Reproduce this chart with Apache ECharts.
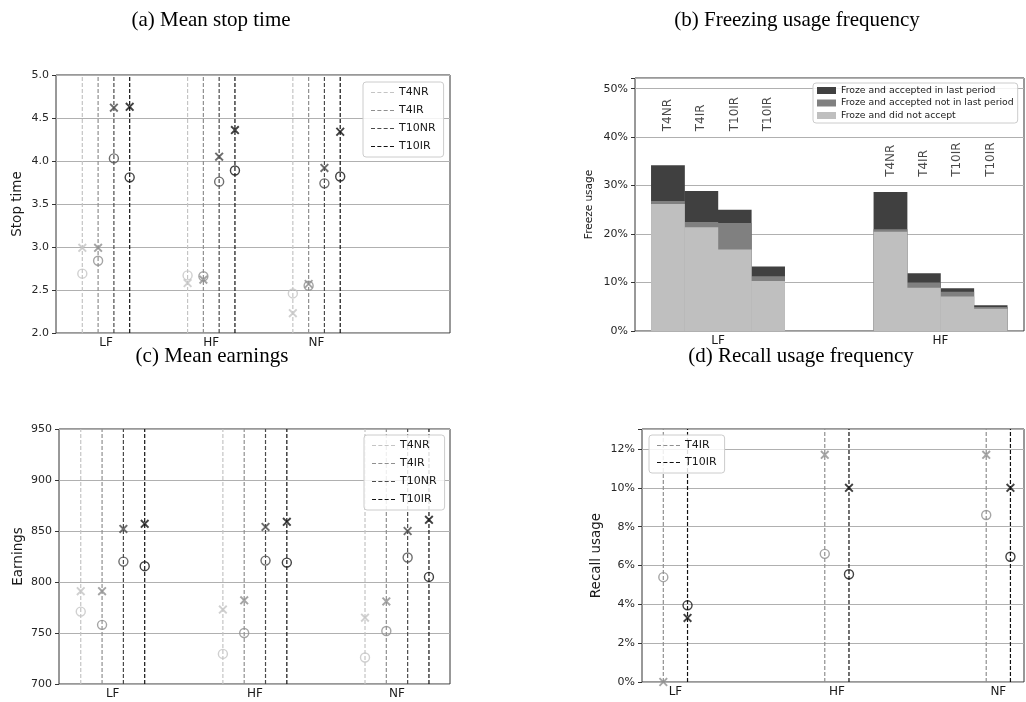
<!DOCTYPE html>
<html>
<head>
<meta charset="utf-8">
<script src="https://cdn.jsdelivr.net/npm/echarts/dist/echarts.min.js"></script>
<style>html,body{margin:0;padding:0;background:#fff}#c{width:1026px;height:702px}</style>
</head>
<body>
<div id="c"></div>
<script>
// ---- data ----
const cats = ['LF', 'HF', 'NF'];
const treatments = ['T4NR', 'T4IR', 'T10NR', 'T10IR'];
// per treatment, values over cats (LF, HF, NF)
const stopCross  = [[2.99, 2.58, 2.23], [2.99, 2.62, 2.57], [4.62, 4.05, 3.92], [4.63, 4.36, 4.34]];
const stopCircle = [[2.69, 2.67, 2.46], [2.84, 2.66, 2.55], [4.03, 3.76, 3.74], [3.81, 3.89, 3.82]];
const earnCross  = [[791, 773, 765], [791, 782, 781], [852, 854, 850], [857, 859, 861]];
const earnCircle = [[771, 729.5, 726], [758, 750, 752], [820, 821, 824], [815.5, 819, 805]];
const recallTreatments = ['T4IR', 'T10IR'];
const recallCross  = [[0, 11.7, 11.7], [3.3, 10.0, 10.0]];
const recallCircle = [[5.4, 6.6, 8.6], [3.95, 5.55, 6.45]];
// freezing usage (%) : LF x4 bars then HF x4 bars
const freezeGroups = ['LF', 'HF'];
const freezeBarLabels = ['T4NR', 'T4IR', 'T10IR', 'T10IR'];
const freezeNoAccept   = [26.2, 21.4, 16.8, 10.3, 20.5, 8.9, 7.1, 4.6];
const freezeNotLast    = [0.6, 1.1, 5.5, 1.0, 0.5, 1.1, 1.0, 0.35];
const freezeLastPeriod = [7.4, 6.4, 2.7, 2.0, 7.7, 1.9, 0.7, 0.35];
const freezeLabelHeight = [41.2, 31.8];
const freezeNames = ['Froze and accepted in last period', 'Froze and accepted not in last period', 'Froze and did not accept'];
const stopRange = [2.0, 5.0];
const earnRange = [700, 950];
const recallRange = [0, 13.03];

// ---- styling ----
const tColors = {T4NR: '#c4c4c4', T4IR: '#8f8f8f', T10NR: '#4a4a4a', T10IR: '#111111'};
const offsets4 = [-0.225, -0.075, 0.075, 0.225];
const offsets2 = [-0.075, 0.075];
const CROSS = 'path://M0,1.5L1.5,0L5,3.5L8.5,0L10,1.5L6.5,5L10,8.5L8.5,10L5,6.5L1.5,10L0,8.5L3.5,5Z';
const DASH_ICON = 'path://M0,0h4v1h-4zM6.3,0h4v1h-4zM12.6,0h4v1h-4zM18.9,0h4v1h-4z';
const SANS = 'DejaVu Sans';
const SERIF = 'Liberation Serif';

function vlineData(n, off, ymin, ymax) {
  const d = [];
  for (let i = 0; i < n; i++) { d.push([i + off, ymin], [i + off, ymax], [i + off, '-']); }
  return d;
}
function pointData(vals, off) { return vals.map((v, i) => [i + off, v]); }

const series = [];
function addDotPanel(gi, names, offs, cross, circle, range) {
  names.forEach((t, k) => {
    const c = tColors[t];
    series.push({
      name: t, type: 'line', xAxisIndex: gi, yAxisIndex: gi, symbol: 'none', silent: true,
      connectNulls: false, z: 2,
      data: vlineData(cats.length, offs[k], range[0], range[1]),
      lineStyle: {color: c, width: 1.2, type: [4, 2]}, itemStyle: {color: c}
    });
    series.push({
      name: gi + '-' + t + '-o', type: 'scatter', xAxisIndex: gi, yAxisIndex: gi, z: 4,
      symbol: 'circle', symbolSize: 9,
      itemStyle: {color: 'rgba(0,0,0,0)', borderColor: c, borderWidth: 1.4},
      data: pointData(circle[k], offs[k])
    });
    series.push({
      name: gi + '-' + t + '-x', type: 'scatter', xAxisIndex: gi, yAxisIndex: gi, z: 5,
      symbol: CROSS, symbolSize: 9, itemStyle: {color: c},
      data: pointData(cross[k], offs[k])
    });
  });
}
addDotPanel(0, treatments, offsets4, stopCross, stopCircle, stopRange);
addDotPanel(2, treatments, offsets4, earnCross, earnCircle, earnRange);
addDotPanel(3, recallTreatments, offsets2, recallCross, recallCircle, recallRange);

// freezing bars: drawn as overlapping cumulative bars (top segment first)
function barX(idx) { return Math.floor(idx / 4) + offsets4[idx % 4]; }
const cumLast = freezeNoAccept.map((v, i) => v + freezeNotLast[i] + freezeLastPeriod[i]);
const cumNotLast = freezeNoAccept.map((v, i) => v + freezeNotLast[i]);
const freezeLayers = [
  {name: freezeNames[0], data: cumLast, color: '#404040'},
  {name: freezeNames[1], data: cumNotLast, color: '#808080'},
  {name: freezeNames[2], data: freezeNoAccept, color: '#bfbfbf'}
];
freezeLayers.forEach((s, k) => {
  series.push({
    name: s.name, type: 'bar', xAxisIndex: 1, yAxisIndex: 1, barWidth: 33.8, barGap: '-100%',
    itemStyle: {color: s.color}, data: s.data.map((v, i) => [barX(i), v]), z: 2 + k * 0.1
  });
});
const labelData = [];
freezeGroups.forEach((g, gi) => freezeBarLabels.forEach((l, j) => labelData.push([gi + offsets4[j], freezeLabelHeight[gi]])));
series.push({
  name: 'freeze-labels', type: 'scatter', xAxisIndex: 1, yAxisIndex: 1, symbolSize: 1, silent: true, z: 6,
  itemStyle: {color: 'rgba(0,0,0,0)'},
  data: labelData,
  label: {show: true, position: 'inside', rotate: 90, align: 'left', verticalAlign: 'middle',
    fontFamily: SANS, fontSize: 12, color: '#1a1a1a',
    formatter: p => freezeBarLabels[p.dataIndex % 4]}
});

function yAxis(gi, min, max, interval, fmt, name, gap, nameSize) {
  return {
    type: 'value', gridIndex: gi, min: min, max: max, interval: interval,
    name: name, nameLocation: 'middle', nameGap: gap, nameRotate: 90,
    nameTextStyle: {fontFamily: SANS, fontSize: nameSize, color: '#1a1a1a'},
    axisLine: {show: false, onZero: false},
    axisTick: {show: true, length: 4, lineStyle: {color: '#333'}},
    axisLabel: {fontFamily: SANS, fontSize: 11, color: '#262626', margin: 7, formatter: fmt},
    splitLine: {show: true, lineStyle: {color: '#b0b0b0', width: 1}}
  };
}
function xAxis(gi, min, max, labels) {
  return {
    type: 'value', gridIndex: gi, min: min, max: max,
    axisLine: {show: false, onZero: false}, axisTick: {show: false}, splitLine: {show: false},
    axisLabel: {customValues: labels.map((l, i) => i), formatter: v => labels[Math.round(v)] || '',
      fontFamily: SANS, fontSize: 12, color: '#1a1a1a', margin: 4}
  };
}
const gridStyle = {show: true, borderColor: '#333', borderWidth: 1, backgroundColor: '#fff', containLabel: false};

const legendBase = {
  orient: 'vertical', backgroundColor: 'rgba(255,255,255,0.85)', borderColor: '#cccccc', borderWidth: 1,
  borderRadius: 3, icon: DASH_ICON, itemWidth: 23, itemHeight: 1.4, itemGap: 5, padding: [4, 8],
  textStyle: {fontFamily: SANS, fontSize: 11, color: '#1a1a1a', lineHeight: 13}, selectedMode: false
};

const option = {
  animation: false,
  backgroundColor: '#fff',
  title: [
    {text: '(a) Mean stop time', left: 206, top: 5, textAlign: 'center'},
    {text: '(b) Freezing usage frequency', left: 792, top: 5, textAlign: 'center'},
    {text: '(c) Mean earnings', left: 207, top: 341, textAlign: 'center'},
    {text: '(d) Recall usage frequency', left: 796, top: 341, textAlign: 'center'}
  ].map(t => Object.assign(t, {textStyle: {fontFamily: SERIF, fontSize: 21, fontWeight: 'normal', color: '#000'}})),
  grid: [
    Object.assign({left: 56, top: 75, width: 394, height: 258}, gridStyle),
    Object.assign({left: 635, top: 78, width: 389, height: 253}, gridStyle),
    Object.assign({left: 59, top: 429, width: 391, height: 255}, gridStyle),
    Object.assign({left: 642, top: 429, width: 382, height: 253}, gridStyle)
  ],
  xAxis: [
    xAxis(0, -0.475, 3.268, cats),
    xAxis(1, -0.373, 1.375, freezeGroups),
    xAxis(2, -0.378, 2.373, cats),
    xAxis(3, -0.207, 2.159, cats)
  ],
  yAxis: [
    yAxis(0, stopRange[0], stopRange[1], 0.5, v => v.toFixed(1), 'Stop time', 32, 13.5),
    yAxis(1, 0, 52.2, 10, v => (Math.abs(v % 10) < 1e-6 ? Math.round(v) + '%' : ''), 'Freeze usage', 40, 10.5),
    yAxis(2, earnRange[0], earnRange[1], 50, v => String(v), 'Earnings', 34, 13.5),
    yAxis(3, recallRange[0], recallRange[1], 2, v => (Math.abs(v % 2) < 1e-6 ? Math.round(v) + '%' : ''), 'Recall usage', 39, 13.5)
  ],
  legend: [
    Object.assign({}, legendBase, {left: 363, top: 82, data: treatments}),
    Object.assign({}, legendBase, {left: 364, top: 435, data: treatments}),
    Object.assign({}, legendBase, {left: 649, top: 435, data: recallTreatments, itemGap: 4}),
    Object.assign({}, legendBase, {left: 813, top: 83, data: freezeNames, icon: 'rect', itemWidth: 19, itemHeight: 7,
      itemGap: 3.5, padding: [3, 4], itemStyle: {borderWidth: 0},
      textStyle: {fontFamily: SANS, fontSize: 9.3, color: '#1a1a1a'}})
  ],
  series: series
};
const chart = echarts.init(document.getElementById('c'), null, {renderer: 'canvas'});
chart.setOption(option);
</script>
</body>
</html>
